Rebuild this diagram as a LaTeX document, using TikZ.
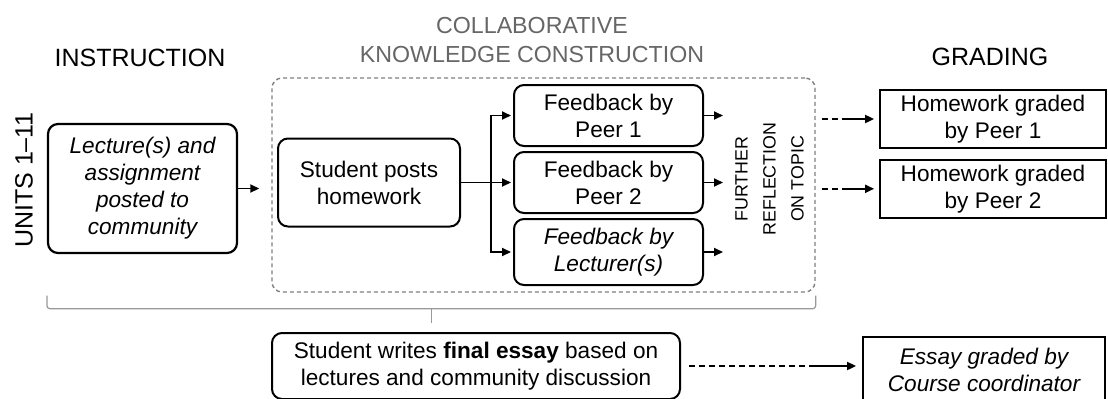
\documentclass[tikz,border=0pt]{standalone}
\usepackage{fontspec}
\setmainfont{Liberation Sans}
\usetikzlibrary{arrows.meta, positioning, calc}

\newcommand\bodyfs{\fontsize{11.3}{13.5}\selectfont}

\begin{document}
\begin{tikzpicture}[x=0.5pt, y=-0.5pt, font=\bodyfs,
              roundBlock/.style={
                rounded corners=5pt, draw, line width=1pt,
                align=center, inner sep=0pt
             },
              fbBlock/.style={roundBlock, minimum width=94.5pt, minimum height=30.5pt},
              gradeBlock/.style={
                draw, line width=0.9pt, align=center, inner sep=0pt,
                minimum width=113pt, minimum height=29pt
             },
              phase/.style={font=\fontsize{12.5}{15}\selectfont},
              arr/.style={-{Triangle[length=4.5pt, width=4pt]}, line width=0.9pt},
              dashLine/.style={line width=0.9pt, dash pattern=on 3pt off 2pt},
              braceLine/.style={draw=black!40, line width=0.6pt, rounded corners=1.5pt}
            ]
              \useasboundingbox[fill=white] (0,0) rectangle (1108,398);

              % phase headings
              \node[phase](instr) at (140,58){INSTRUCTION};
              \node[text=black!60, align=center, font=\fontsize{11.6}{14.5}\selectfont](collab) at (532,40){COLLABORATIVE\\KNOWLEDGE CONSTRUCTION};
              \node[phase](grad) at (990,57){GRADING};
              \node[phase, rotate=90](units) at (24,180){UNITS 1–11};

              % instruction
              \node[roundBlock, line width=1.1pt, minimum width=94.5pt, minimum height=64.5pt, font=\bodyfs\itshape](lec) at (142.5,188.5){Lecture(s) and\\assignment\\posted to\\community};

              % collaborative knowledge construction
              \node[draw=black!50, dash pattern=on 2pt off 1.5pt, line width=0.7pt, rounded corners=5pt,
                    minimum width=271.5pt, minimum height=107pt](cont) at (543.5,185){};
              \node[roundBlock, minimum width=91pt, minimum height=44pt](hw) at (369,182.5){Student posts\\homework};
              \node[fbBlock](p2) at (608.5,182.5){Feedback by\\Peer 2};
              \node[fbBlock, above=2pt of p2](p1){Feedback by\\Peer 1};
              \node[fbBlock, below=2pt of p2, minimum height=33pt, font=\bodyfs\itshape](p3){Feedback by\\Lecturer(s)};
              \node[rotate=90, align=center, font=\fontsize{8.9}{14}\selectfont](refl) at (769.5,179){FURTHER\\REFLECTION\\ON TOPIC};

              \draw[arr, shorten >=6pt] (lec.east) -- (lec.east -| cont.west);
              \coordinate[right=15pt of hw.east](br);
              \draw[line width=0.9pt] (hw.east) -- (br);
              \draw[arr, shorten >=1pt] (br) |- (p1.west);
              \draw[arr, shorten >=1pt] (br) -- (p2.west);
              \draw[arr, shorten >=1pt] (br) |- (p3.west);
              \draw[arr] (p1.east) -- ++(19,0);
              \draw[arr] (p2.east) -- ++(19,0);
              \draw[arr] (p3.east) -- ++(19,0);

              % grading
              \node[gradeBlock](g1) at (993,119){Homework graded\\by Peer 1};
              \node[gradeBlock, below=5pt of g1](g2){Homework graded\\by Peer 2};
              \draw[dashLine] ([xshift=3pt]cont.east |- g1.west) -- ([xshift=-17pt]g1.west);
              \draw[arr] ([xshift=-17pt]g1.west) -- ([xshift=-2.5pt]g1.west);
              \draw[dashLine] ([xshift=3pt]cont.east |- g2.west) -- ([xshift=-17pt]g2.west);
              \draw[arr] ([xshift=-17pt]g2.west) -- ([xshift=-2.5pt]g2.west);

              % units 1-11 brace
              \draw[braceLine] ([yshift=-1.5pt]lec.west |- cont.south) |- ([yshift=-8pt]cont.south east) -- ([yshift=-1.5pt]cont.south east);
              \draw[braceLine] ($([yshift=-8pt]lec.west |- cont.south)!0.5!([yshift=-8pt]cont.south east)$) -- ++(0,14);

              % final essay
              \node[roundBlock, minimum width=204pt, minimum height=33pt](es) at (476,366){Student writes \textbf{final essay} based on\\lectures and community discussion};
              \node[gradeBlock, minimum width=121pt, minimum height=33pt, font=\bodyfs\itshape](eg) at (984,370){Essay graded by\\Course coordinator};
              \draw[dashLine] ([xshift=4pt]es.east) -- ([xshift=-26.5pt]eg.west |- es.east);
              \draw[arr] ([xshift=-26.5pt]eg.west |- es.east) -- ([xshift=-3pt]eg.west |- es.east);
            \end{tikzpicture}
\end{document}
